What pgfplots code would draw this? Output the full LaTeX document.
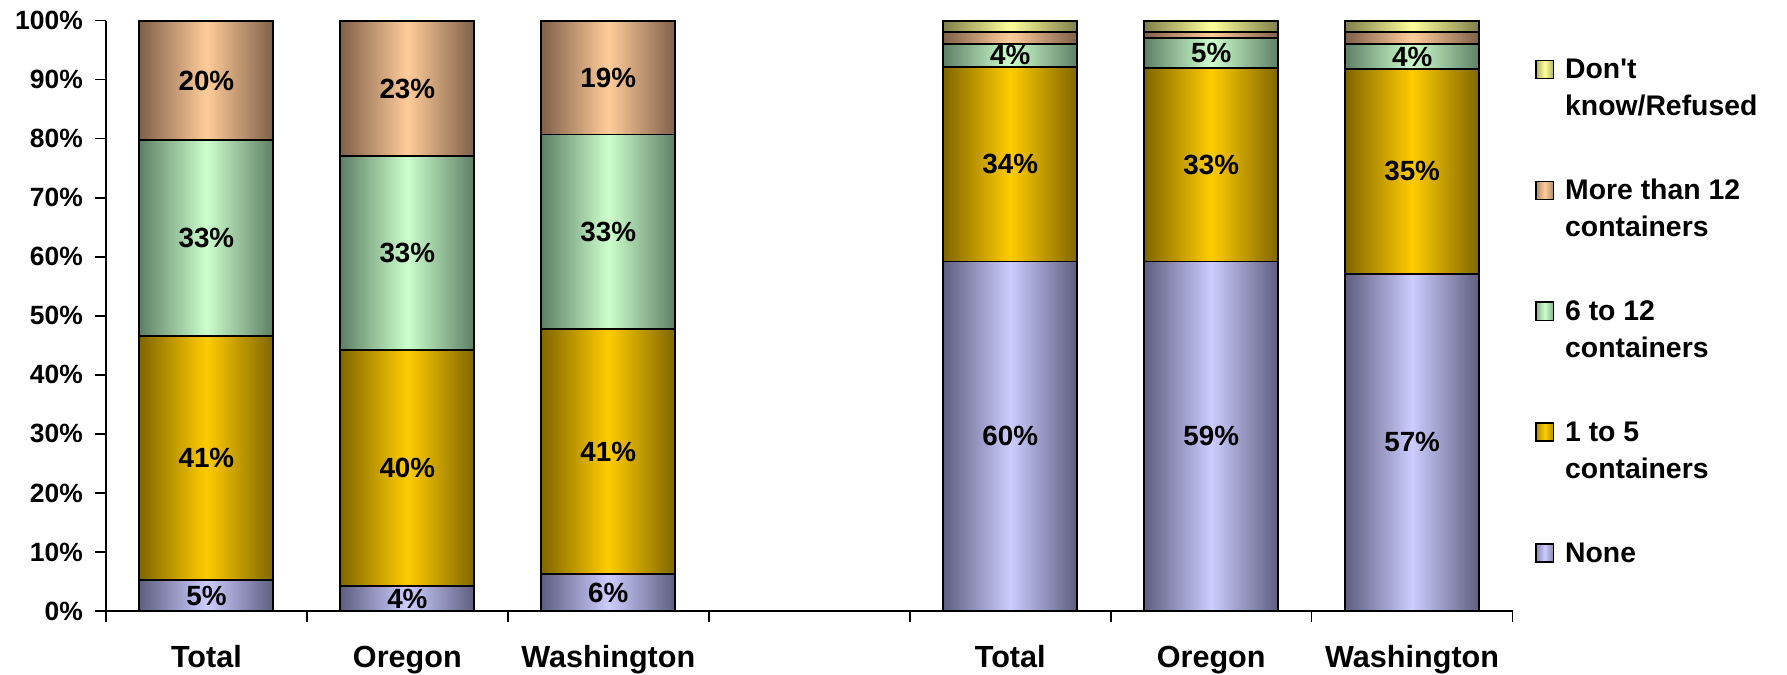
\documentclass[border=0pt]{standalone}
\usepackage{fontspec}
\setmainfont{Liberation Sans}
\usepackage{pgfplots}
\pgfplotsset{compat=1.18}

\definecolor{noneL}{HTML}{CCCCFF}\definecolor{noneD}{HTML}{5E5E80}
\definecolor{oneL}{HTML}{FFCC00}\definecolor{oneD}{HTML}{806600}
\definecolor{sixL}{HTML}{CCFFCC}\definecolor{sixD}{HTML}{5E7F66}
\definecolor{moreL}{HTML}{FFCC99}\definecolor{moreD}{HTML}{7F604A}
\definecolor{dkL}{HTML}{FFFF99}\definecolor{dkD}{HTML}{7F7F4C}

\pgfplotsset{
  gradbar/.style 2 args={draw=black, line width=0.7pt,
    left color=#2, right color=#2, middle color=#1,
    legend image code/.code={\draw[left color=#2!60!#1, right color=#2!60!#1, middle color=#1,
      draw=black, line width=0.5pt] (0pt,0pt) rectangle (6.2pt,6.5pt);}},
  frame/.style={scale only axis, width=506pt, height=212.4pt,
    xmin=0.5, xmax=7.5, ymin=0, ymax=100},
  % one stacked bar per axis, so that every bar gets its own shading
  barset/.style={frame, hide axis, ybar stacked, bar width=0.667,
    point meta=explicit symbolic, nodes near coords,
    every node near coord/.append style={anchor=center, text=black,
      font=\fontsize{10}{12}\selectfont\bfseries}},
}
% #1 none, #2 1-5, #3 6-12, #4 more than 12, #5 don't know
\newcommand\onebar[5]{%
  \begin{axis}[barset]
  \addplot[gradbar={noneL}{noneD}] coordinates {#1};
  \addplot[gradbar={oneL}{oneD}] coordinates {#2};
  \addplot[gradbar={sixL}{sixD}] coordinates {#3};
  \addplot[gradbar={moreL}{moreD}] coordinates {#4};
  \addplot[gradbar={dkL}{dkD}] coordinates {#5};
  \end{axis}}

\begin{document}
\begin{tikzpicture}
\begin{axis}[
  frame,
  axis x line*=bottom, axis y line*=left,
  axis line style={line width=0.6pt},
  tick align=outside, major tick length=3.8pt,
  tick style={black, line width=0.6pt},
  xtick={0.5,1.5,2.5,3.5,4.5,5.5,6.5,7.5}, xticklabel=\empty,
  extra x ticks={1,2,3,5,6,7},
  extra x tick labels={Total,Oregon,Washington,Total,Oregon,Washington},
  extra x tick style={major tick length=0pt,
    tick label style={anchor=base, inner sep=0pt, yshift=-20.4pt,
      font=\fontsize{11}{13}\selectfont\bfseries}},
  ytick={0,10,20,30,40,50,60,70,80,90,100},
  yticklabels={0\%,10\%,20\%,30\%,40\%,50\%,60\%,70\%,80\%,90\%,100\%},
  yticklabel style={xshift=-1pt, font=\fontsize{9.5}{12}\selectfont\bfseries},
  legend style={at={(axis description cs:1,1)}, anchor=north west,
    xshift=5pt, yshift=-11pt, draw=none, fill=none,
    font=\fontsize{10.2}{13.5}\selectfont\bfseries,
    row sep=7.9pt, column sep=4pt,
    cells={anchor=base west},
    nodes={inner sep=0pt, text height=7.6pt, text depth=28pt}},
]
\addlegendimage{gradbar={dkL}{dkD}}
\addlegendentry{\begin{tabular}[t]{@{}l@{}}Don\textquotesingle t\\know/Refused\end{tabular}}
\addlegendimage{gradbar={moreL}{moreD}}
\addlegendentry{\begin{tabular}[t]{@{}l@{}}More than 12\\containers\end{tabular}}
\addlegendimage{gradbar={sixL}{sixD}}
\addlegendentry{\begin{tabular}[t]{@{}l@{}}6 to 12\\containers\end{tabular}}
\addlegendimage{gradbar={oneL}{oneD}}
\addlegendentry{\begin{tabular}[t]{@{}l@{}}1 to 5\\containers\end{tabular}}
\addlegendimage{gradbar={noneL}{noneD}}
\addlegendentry{None}
\end{axis}
% left group
\onebar{(1,5.2)[5\%]}{(1,41.3)[41\%]}{(1,33.2)[33\%]}{(1,20.3)[20\%]}{(1,0)[]}
\onebar{(2,4.2)[4\%]}{(2,40.0)[40\%]}{(2,32.8)[33\%]}{(2,23.0)[23\%]}{(2,0)[]}
\onebar{(3,6.2)[6\%]}{(3,41.5)[41\%]}{(3,33.0)[33\%]}{(3,19.3)[19\%]}{(3,0)[]}
% right group
\onebar{(5,59.2)[60\%]}{(5,33.0)[34\%]}{(5,3.8)[4\%]}{(5,2.0)[]}{(5,2.0)[]}
\onebar{(6,59.2)[59\%]}{(6,32.7)[33\%]}{(6,5.2)[5\%]}{(6,0.9)[]}{(6,2.0)[]}
\onebar{(7,57.1)[57\%]}{(7,34.7)[35\%]}{(7,4.2)[4\%]}{(7,2.0)[]}{(7,2.0)[]}
\path (current axis.south west) ++(-38.1pt,-23pt) rectangle ++(642.8pt,242.8pt);
\end{tikzpicture}
\end{document}
